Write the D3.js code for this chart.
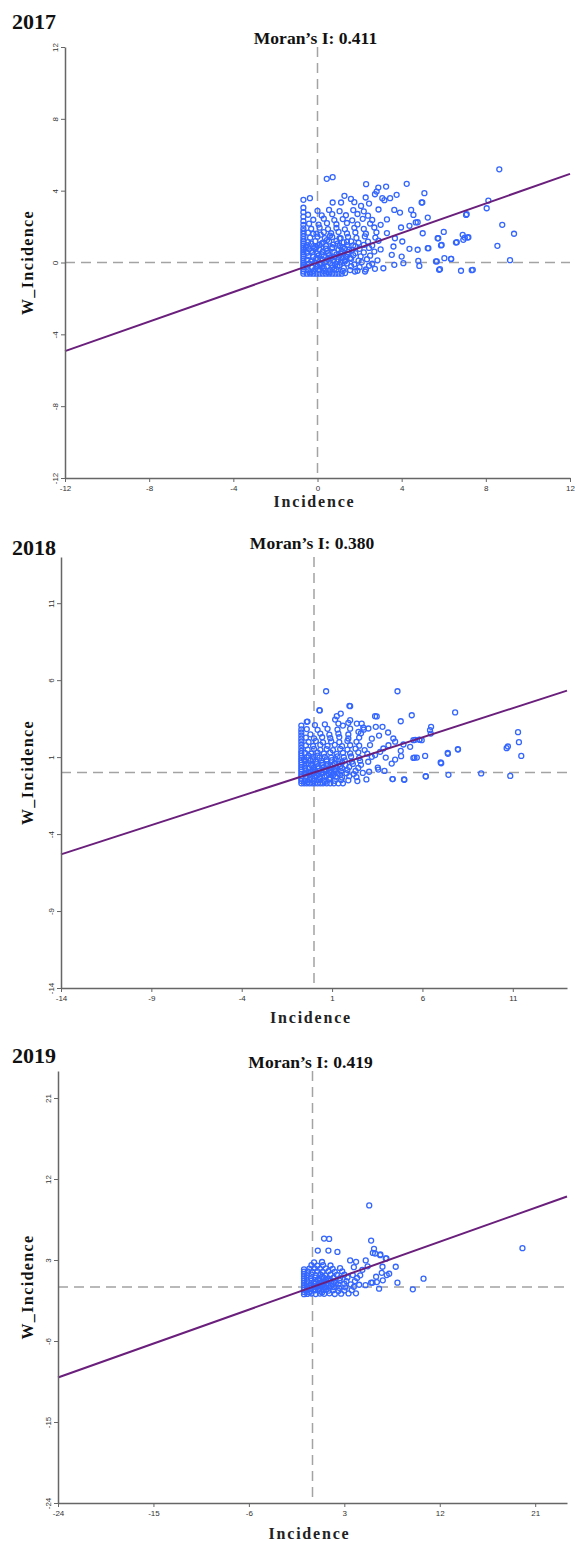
<!DOCTYPE html>
<html>
<head>
<meta charset="utf-8">
<script src="https://cdn.jsdelivr.net/npm/d3@7"></script>
<style>
  body { margin: 0; background: #fff; }
  svg { display: block; }
</style>
</head>
<body>
<svg id="chart" width="575" height="1541"></svg>
<script>
// ---- data ----
const years = ['2017', '2018', '2019'];
const moranI = ['0.411', '0.380', '0.419'];
const slopes = [0.411, 0.380, 0.419];
const xDomains = [[-12, 12], [-14, 14], [-24, 24]];
const yDomains = [[-12, 12], [-14, 14], [-24, 24]];
const xTicks = [[-12, -8, -4, 0, 4, 8, 12], [-14, -9, -4, 1, 6, 11], [-24, -15, -6, 3, 12, 21]];
const yTicks = [[-12, -8, -4, 0, 4, 8, 12], [-14, -9, -4, 1, 6, 11], [-24, -15, -6, 3, 12, 21]];

const points2017 = [
  // sparse / outliers
  [0.44,4.66],[0.72,4.75],[2.31,4.36],[2.89,4.17],[3.26,4.23],[4.24,4.38],[5.08,3.86],
  [-0.67,3.49],[-0.36,3.58],[2.29,3.62],[2.73,3.8],[2.81,3.95],[3.08,3.58],[3.45,3.58],[3.76,3.77],
  [1.28,3.71],[1.59,3.54],[0.72,3.34],[1.12,3.34],[1.75,3.36],[2.07,3.15],[2.45,3.28],[3.18,3.47],
  [4.95,3.34],[3.65,2.93],[3.92,2.78],[4.45,2.93],[4.56,2.65],[5.24,2.5],[4.67,2.23],[4.37,2.04],
  [3.97,1.95],[7.09,2.69],[5.74,1.35],[5.9,0.98],[6.62,1.13],[6.93,1.26],[7.14,1.39],[5.27,0.8],
  [4.76,0.71],[4.37,0.76],[4.03,1.17],[3.68,1.35],[3.61,0.89],[3.53,0.43],[4.0,0.33],[6.03,0.24],
  [6.35,0.2],[5.67,0.06],[4.79,0.09],[5.78,-0.41],[6.82,-0.46],[7.38,-0.41],[4.84,-0.19],[3.65,-0.13],
  [4.08,-0.04],[3.13,-0.32],[2.73,-0.35],[2.26,-0.5],[1.78,-0.5],[1.31,-0.59],
  [8.64,5.19],[8.12,3.45],[8.04,3.02],[7.06,2.65],[8.78,2.1],[9.34,1.6],[6.9,1.54],[7.0,1.39],
  [7.17,1.41],[6.58,1.11],[8.55,0.93],[9.15,0.13],[5.71,1.35],[5.87,0.95],[5.24,0.8],[6.35,0.2],
  [5.63,0.06],[5.82,-0.37],[7.33,-0.43],[4.98,3.34],[4.76,2.24],[5.0,1.63],[6.0,1.7],[3.3,2.4],
  // left column
  [-0.67,-0.62],[-0.67,-0.5],[-0.67,-0.38],[-0.67,-0.26],[-0.67,-0.14],[-0.67,-0.02],[-0.67,0.1],
  [-0.67,0.22],[-0.67,0.34],[-0.67,0.46],[-0.67,0.58],[-0.67,0.7],[-0.67,0.82],[-0.67,0.94],
  [-0.67,1.06],[-0.67,1.18],[-0.67,1.3],[-0.67,1.45],[-0.67,1.6],[-0.67,1.75],[-0.67,1.9],
  [-0.67,2.1],[-0.67,2.3],[-0.67,2.55],[-0.67,2.8],[-0.67,3.05],
  // bottom row
  [-0.5,-0.62],[-0.35,-0.62],[-0.2,-0.62],[-0.05,-0.62],[0.1,-0.62],[0.25,-0.62],[0.4,-0.62],
  [0.55,-0.62],[0.7,-0.62],[0.85,-0.62],[1.0,-0.62],[1.15,-0.62],
  // dense cluster
  [-0.45,-0.43],[-0.2,-0.48],[0.05,-0.41],[0.3,-0.47],[0.6,-0.44],[0.9,-0.4],[1.2,-0.47],[1.55,-0.42],[1.9,-0.46],[2.3,-0.39],
  [-0.5,-0.24],[-0.25,-0.29],[0.0,-0.22],[0.2,-0.27],[0.45,-0.2],[0.7,-0.28],[0.95,-0.23],[1.25,-0.3],[1.6,-0.21],[2.0,-0.26],[2.45,-0.18],
  [-0.4,-0.06],[-0.15,-0.02],[0.1,-0.08],[0.35,0.0],[0.6,-0.04],[0.85,-0.09],[1.1,0.01],[1.4,-0.05],[1.75,-0.1],[2.1,0.02],[2.6,-0.07],
  [-0.5,0.16],[-0.25,0.12],[0.0,0.19],[0.25,0.14],[0.5,0.2],[0.75,0.11],[1.0,0.17],[1.3,0.13],[1.6,0.21],[1.95,0.1],[2.35,0.18],[2.85,0.12],
  [-0.45,0.36],[-0.2,0.31],[0.05,0.39],[0.3,0.33],[0.55,0.4],[0.8,0.3],[1.05,0.37],[1.35,0.32],[1.7,0.41],[2.05,0.34],[2.5,0.38],
  [-0.5,0.54],[-0.25,0.58],[0.0,0.51],[0.25,0.6],[0.5,0.53],[0.8,0.57],[1.1,0.5],[1.45,0.59],[1.8,0.52],[2.2,0.56],[2.7,0.61],
  [-0.4,0.74],[-0.15,0.79],[0.1,0.71],[0.4,0.77],[0.7,0.8],[1.0,0.72],[1.3,0.78],[1.65,0.7],[2.0,0.76],[2.45,0.81],[3.0,0.73],
  [-0.5,0.96],[-0.2,0.91],[0.1,0.99],[0.4,0.93],[0.75,1.0],[1.05,0.92],[1.4,0.97],[1.8,0.9],[2.2,0.98],[2.6,0.94],
  [-0.45,1.13],[-0.1,1.19],[0.25,1.11],[0.55,1.17],[0.9,1.2],[1.25,1.12],[1.6,1.18],[1.95,1.1],[2.4,1.16],[2.9,1.21],
  [-0.35,1.38],[0.0,1.44],[0.35,1.36],[0.7,1.42],[1.05,1.35],[1.45,1.43],[1.85,1.37],[2.25,1.45],[2.75,1.39],
  [-0.45,1.66],[-0.05,1.61],[0.3,1.69],[0.65,1.63],[1.0,1.7],[1.4,1.62],[1.8,1.67],[2.3,1.6],[2.8,1.68],[3.3,1.64],
  [-0.3,1.88],[0.1,1.94],[0.5,1.86],[0.9,1.92],[1.3,1.85],[1.75,1.93],[2.2,1.87],[2.7,1.95],
  [-0.4,2.16],[0.05,2.11],[0.45,2.19],[0.9,2.13],[1.4,2.2],[1.9,2.12],[2.5,2.17],[3.0,2.1],
  [-0.2,2.38],[0.3,2.44],[0.8,2.36],[1.2,2.42],[1.65,2.35],[2.15,2.43],[2.6,2.37],
  [-0.45,2.66],[0.2,2.62],[0.7,2.69],[1.35,2.63],[1.9,2.7],[2.4,2.61],
  [0.0,2.88],[0.55,2.93],[1.05,2.86],[1.7,2.92],[2.2,2.85],[2.9,2.95],
  [-0.35,-0.55],[-0.1,-0.35],[0.15,-0.15],[0.4,0.05],[0.65,0.25],[0.9,0.45],[1.15,0.65],[-0.3,0.05],
  [-0.05,0.25],[0.2,0.45],[0.45,0.65],[0.7,0.85],[0.95,1.05],[-0.3,0.65],[-0.05,0.85],[0.2,1.05],
  [0.45,1.25],[0.7,-0.15],[0.95,0.05],[1.2,0.25],[1.45,0.45],[0.3,-0.3],[0.55,-0.55],[0.8,-0.35],
  [1.05,-0.15],[1.3,0.05],[1.55,0.25],[-0.55,0.85],[-0.3,1.05],[1.2,0.85],[1.5,0.7],[1.7,0.95],
  [1.4,1.15],[1.1,1.35],[0.6,1.5],[0.15,1.55],[-0.2,1.6]
];

const points2018 = [
  // sparse / outliers
  [0.67,5.28],[4.62,5.28],[0.3,4.05],[1.96,4.33],[-0.4,3.29],[-0.36,3.31],[0.32,4.03],[2.0,4.31],
  [1.48,3.83],[1.26,3.66],[1.17,3.44],[1.35,3.18],[2.0,3.4],[1.9,3.23],[2.37,3.18],[2.64,3.18],
  [2.73,2.92],[3.01,2.86],[2.46,2.64],[3.38,3.66],[3.42,2.97],[3.79,2.97],[3.47,3.64],[4.8,3.33],
  [5.41,3.72],[7.81,3.9],[6.48,2.97],[6.42,2.75],[6.46,2.53],[7.96,1.52],[7.4,1.28],[7.01,0.65],
  [6.15,1.08],[5.56,0.97],[5.69,0.97],[5.32,1.67],[4.8,1.41],[4.82,1.06],[4.49,0.84],[4.3,0.58],
  [3.97,0.97],[3.53,0.32],[3.56,0.19],[4.34,-0.43],[4.98,-0.45],[6.18,-0.24],[7.44,-0.15],[9.25,-0.06],
  [5.96,2.1],[5.5,2.1],[5.83,2.14],[4.95,1.82],[4.39,2.21],[4.49,2.0],[4.12,1.77],[3.84,1.56],
  [3.66,1.34],[3.2,1.02],[3.38,1.13],[11.29,2.62],[11.34,1.97],[11.47,1.08],[10.73,1.69],[10.66,1.58],
  [7.97,1.49],[7.41,1.21],[7.04,0.6],[10.86,-0.22],[6.19,-0.26],[5.6,2.12],[5.84,2.12],[5.5,0.95],
  [5.0,-0.47],[4.36,-0.43],[3.6,2.4],[4.1,2.6],[3.2,2.2],[3.9,0.1],
  // left column
  [-0.7,-0.7],[-0.7,-0.55],[-0.7,-0.4],[-0.7,-0.25],[-0.7,-0.1],[-0.7,0.05],[-0.7,0.2],[-0.7,0.35],
  [-0.7,0.5],[-0.7,0.65],[-0.7,0.8],[-0.7,0.95],[-0.7,1.1],[-0.7,1.25],[-0.7,1.4],[-0.7,1.6],
  [-0.7,1.8],[-0.7,2.0],[-0.7,2.2],[-0.7,2.4],[-0.7,2.6],[-0.7,2.8],[-0.7,3.05],
  // bottom row
  [-0.55,-0.7],[-0.4,-0.7],[-0.25,-0.7],[-0.1,-0.7],[0.05,-0.7],[0.2,-0.7],[0.35,-0.7],[0.5,-0.7],
  [0.7,-0.7],[0.9,-0.7],[1.1,-0.7],[1.35,-0.7],[1.6,-0.7],
  // dense cluster
  [-0.5,-0.52],[-0.25,-0.47],[0.0,-0.55],[0.25,-0.49],[0.55,-0.53],[0.85,-0.46],[1.15,-0.54],[1.5,-0.48],[1.9,-0.51],[2.4,-0.56],[2.9,-0.45],
  [-0.45,-0.28],[-0.2,-0.33],[0.05,-0.26],[0.3,-0.31],[0.6,-0.25],[0.9,-0.34],[1.2,-0.27],[1.55,-0.32],[1.95,-0.24],[2.35,-0.3],
  [-0.5,-0.08],[-0.25,-0.13],[0.0,-0.06],[0.25,-0.11],[0.5,-0.04],[0.8,-0.12],[1.1,-0.07],[1.45,-0.14],[1.8,-0.05],[2.2,-0.1],[2.7,-0.03],
  [-0.45,0.12],[-0.2,0.07],[0.05,0.14],[0.3,0.09],[0.55,0.15],[0.85,0.06],[1.15,0.13],[1.5,0.08],[1.85,0.16],[2.3,0.1],[3.05,0.05],
  [-0.5,0.31],[-0.25,0.27],[0.0,0.34],[0.25,0.28],[0.55,0.35],[0.85,0.26],[1.2,0.33],[1.55,0.29],[1.95,0.36],[2.45,0.3],
  [-0.45,0.52],[-0.15,0.47],[0.15,0.55],[0.45,0.49],[0.75,0.53],[1.05,0.46],[1.4,0.54],[1.75,0.48],[2.15,0.56],[2.6,0.5],
  [-0.5,0.73],[-0.2,0.78],[0.1,0.7],[0.4,0.77],[0.7,0.72],[1.0,0.8],[1.35,0.74],[1.7,0.79],[2.1,0.71],[2.55,0.76],[3.0,0.7],
  [-0.4,0.98],[-0.05,1.03],[0.3,0.96],[0.6,1.02],[0.95,0.97],[1.3,1.05],[1.65,0.99],[2.05,1.04],[2.5,0.95],
  [-0.5,1.27],[-0.15,1.22],[0.2,1.29],[0.55,1.23],[0.9,1.3],[1.25,1.21],[1.6,1.28],[2.0,1.24],[2.45,1.31],[2.95,1.22],
  [-0.35,1.48],[0.0,1.54],[0.35,1.47],[0.7,1.52],[1.05,1.45],[1.45,1.53],[1.85,1.49],[2.3,1.55],[2.8,1.46],
  [-0.45,1.76],[-0.05,1.72],[0.35,1.79],[0.75,1.73],[1.15,1.8],[1.55,1.71],[2.0,1.77],[2.5,1.74],[3.1,1.78],
  [-0.3,1.98],[0.1,2.04],[0.5,1.96],[0.95,2.02],[1.4,1.97],[1.85,2.05],[2.35,1.99],
  [-0.45,2.26],[0.0,2.22],[0.45,2.29],[0.9,2.23],[1.4,2.3],[1.9,2.21],[2.5,2.27],
  [-0.2,2.48],[0.35,2.53],[0.85,2.46],[1.35,2.52],[1.9,2.47],[2.6,2.55],
  [-0.4,2.82],[0.2,2.77],[0.75,2.84],[1.3,2.79],[2.0,2.85],[2.75,2.78],
  [0.05,3.08],[0.6,3.13],[1.6,3.05],
  [-0.35,-0.62],[-0.1,-0.4],[0.15,-0.2],[0.4,0.0],[0.65,0.2],[0.9,0.4],[1.15,0.6],[-0.3,0.0],
  [-0.05,0.2],[0.2,0.4],[0.45,0.62],[0.7,0.85],[-0.3,0.6],[-0.05,0.85],[0.2,1.1],[0.7,-0.2],
  [0.95,0.0],[1.2,0.2],[1.45,0.4],[0.35,-0.4],[0.6,-0.62],[0.85,-0.4],[1.05,-0.2],[1.3,-0.05],
  [-0.55,0.85],[-0.3,1.1],[1.2,0.85],[1.55,0.65]
];

const points2019 = [
  // sparse / outliers
  [5.35,9.06],[1.09,5.38],[1.57,5.34],[5.53,5.16],[0.5,4.05],[1.5,4.05],[2.35,3.9],[5.8,4.24],
  [5.69,3.79],[5.9,3.72],[6.38,3.54],[6.91,3.17],[3.55,2.95],[4.11,2.8],[5.02,2.95],[7.85,2.25],
  [6.6,2.25],[6.0,1.14],[6.53,1.58],[7.23,1.47],[7.0,1.33],[8.01,0.48],[6.63,0.74],[5.65,0.48],
  [10.47,0.92],[9.46,-0.26],[19.8,4.31],[6.97,3.17],[6.4,3.61],[6.28,-0.19],[5.53,0.48],[6.07,0.55],
  [4.1,-0.7],[4.7,1.9],[5.2,2.3],[4.5,1.3],[3.9,2.2],[5.0,0.2],
  // left column
  [-0.8,-0.8],[-0.8,-0.55],[-0.8,-0.3],[-0.8,-0.05],[-0.8,0.2],[-0.8,0.45],[-0.8,0.7],[-0.8,0.95],
  [-0.8,1.2],[-0.8,1.45],[-0.8,1.7],[-0.8,1.95],
  // dense cluster
  [-0.5,-0.77],[-0.1,-0.72],[0.3,-0.79],[0.7,-0.73],[1.1,-0.76],[1.6,-0.7],[2.1,-0.78],[2.7,-0.74],[3.4,-0.71],
  [-0.55,-0.38],[-0.15,-0.43],[0.25,-0.36],[0.65,-0.42],[1.05,-0.35],[1.5,-0.41],[1.95,-0.37],[2.45,-0.44],[3.0,-0.39],[3.7,-0.35],
  [-0.5,-0.03],[-0.1,-0.08],[0.3,-0.01],[0.7,-0.07],[1.1,0.0],[1.55,-0.06],[2.0,-0.02],[2.5,-0.09],[3.1,-0.04],[3.9,0.02],
  [-0.55,0.32],[-0.15,0.27],[0.25,0.35],[0.65,0.29],[1.05,0.34],[1.5,0.26],[1.95,0.33],[2.45,0.28],[3.0,0.36],[3.6,0.3],[4.4,0.25],
  [-0.5,0.63],[-0.1,0.69],[0.3,0.61],[0.7,0.67],[1.1,0.6],[1.55,0.68],[2.0,0.62],[2.55,0.7],[3.2,0.64],[4.0,0.66],
  [-0.55,1.02],[-0.15,0.97],[0.25,1.04],[0.65,0.98],[1.05,1.05],[1.5,0.96],[2.0,1.03],[2.6,0.99],[3.3,1.06],[4.2,1.0],
  [-0.5,1.33],[-0.1,1.38],[0.3,1.31],[0.75,1.37],[1.2,1.3],[1.7,1.39],[2.3,1.34],[3.0,1.36],[3.8,1.32],
  [-0.45,1.72],[0.0,1.67],[0.45,1.74],[0.95,1.68],[1.5,1.75],[2.1,1.69],[2.8,1.73],
  [-0.3,2.03],[0.2,2.08],[0.7,2.01],[1.25,2.07],[1.9,2.02],[2.6,2.09],
  [-0.1,2.42],[0.45,2.37],[1.0,2.44],[1.7,2.39],
  [0.15,2.73],[0.9,2.78],
  [-0.3,-0.6],[0.1,-0.25],[0.5,0.1],[0.9,0.45],[1.3,0.8],[-0.3,0.1],[0.1,0.45],[0.5,0.8],
  [0.9,1.15],[0.5,-0.25],[0.9,0.1],[1.3,0.45],[1.7,0.8],[0.9,-0.6],[1.3,-0.25],[1.75,0.1],[2.2,0.45]
];

const allPoints = [points2017, points2018, points2019];

// ---- layout of the three stacked panels ----
const panels = [
  { left: 65, right: 570, top: 47,   bottom: 478,  yearY: 29,   titleY: 44,   xLabelY: 507 },
  { left: 61, right: 567, top: 557,  bottom: 988,  yearY: 555,  titleY: 549,  xLabelY: 1023 },
  { left: 58, right: 567, top: 1071, bottom: 1503, yearY: 1063, titleY: 1068, xLabelY: 1539 }
];

const svg = d3.select('#chart');
const serif = '"Liberation Serif", "Times New Roman", serif';

panels.forEach((p, i) => {
  const x = d3.scaleLinear().domain(xDomains[i]).range([p.left, p.right]);
  const y = d3.scaleLinear().domain(yDomains[i]).range([p.bottom, p.top]);
  const g = svg.append('g').attr('class', 'panel');
  const cx = (p.left + p.right) / 2;

  // year label
  g.append('text')
    .attr('x', 12).attr('y', p.yearY)
    .attr('font-family', serif).attr('font-weight', 'bold').attr('font-size', 22)
    .attr('fill', '#111')
    .text(years[i]);

  // Moran's I
  g.append('text')
    .attr('x', cx - 2).attr('y', p.titleY)
    .attr('text-anchor', 'middle')
    .attr('font-family', serif).attr('font-weight', 'bold').attr('font-size', 17.5)
    .attr('fill', '#111')
    .text(`Moran\u2019s I: ${moranI[i]}`);

  // dashed reference lines at zero
  g.append('line')
    .attr('x1', x(0)).attr('x2', x(0))
    .attr('y1', p.top).attr('y2', p.bottom)
    .attr('stroke', '#a3a3a3').attr('stroke-width', 1.5)
    .attr('stroke-dasharray', '10,6');
  g.append('line')
    .attr('x1', p.left).attr('x2', p.right)
    .attr('y1', y(0)).attr('y2', y(0))
    .attr('stroke', '#a3a3a3').attr('stroke-width', 1.5)
    .attr('stroke-dasharray', '10,6');

  // scatter points
  g.append('g').selectAll('circle')
    .data(allPoints[i])
    .join('circle')
    .attr('cx', d => x(d[0]))
    .attr('cy', d => y(d[1]))
    .attr('r', 2.5)
    .attr('fill', 'none')
    .attr('stroke', '#3466ff')
    .attr('stroke-width', 1.3);

  // regression line (slope = Moran's I)
  const line = d3.line().x(d => x(d)).y(d => y(d * slopes[i]));
  g.append('path')
    .datum(xDomains[i])
    .attr('d', line)
    .attr('fill', 'none')
    .attr('stroke', '#6a1f7c')
    .attr('stroke-width', 2);

  // axes
  const xAxis = g.append('g')
    .attr('transform', `translate(0,${p.bottom})`)
    .call(d3.axisBottom(x).tickValues(xTicks[i]).tickSize(4).tickSizeOuter(0).tickFormat(d => String(d)));
  const yAxis = g.append('g')
    .attr('transform', `translate(${p.left},0)`)
    .call(d3.axisLeft(y).tickValues(yTicks[i]).tickSize(4).tickSizeOuter(0).tickFormat(d => String(d)));

  [xAxis, yAxis].forEach(a => {
    a.select('.domain').attr('stroke', '#666').attr('stroke-width', 1.5);
    a.selectAll('.tick line').attr('stroke', '#666');
    a.selectAll('.tick text')
      .attr('fill', '#333')
      .attr('font-family', '"Liberation Sans", Arial, sans-serif')
      .attr('font-size', 8);
  });
  xAxis.selectAll('.tick text').attr('y', 7);
  yAxis.selectAll('.tick text')
    .attr('transform', 'rotate(-90)')
    .attr('x', 0).attr('y', -7).attr('dy', 0)
    .attr('text-anchor', 'middle');

  // axis titles
  g.append('text')
    .attr('x', cx - 3).attr('y', p.xLabelY)
    .attr('text-anchor', 'middle')
    .attr('font-family', serif).attr('font-weight', 'bold').attr('font-size', 16)
    .attr('letter-spacing', 1.8)
    .attr('fill', '#222')
    .text('Incidence');
  g.append('text')
    .attr('transform', `translate(33,${(p.top + p.bottom) / 2}) rotate(-90)`)
    .attr('text-anchor', 'middle')
    .attr('font-family', serif).attr('font-weight', 'bold').attr('font-size', 16)
    .attr('letter-spacing', 1.4)
    .attr('fill', '#111')
    .text('W_Incidence');
});
</script>
</body>
</html>
